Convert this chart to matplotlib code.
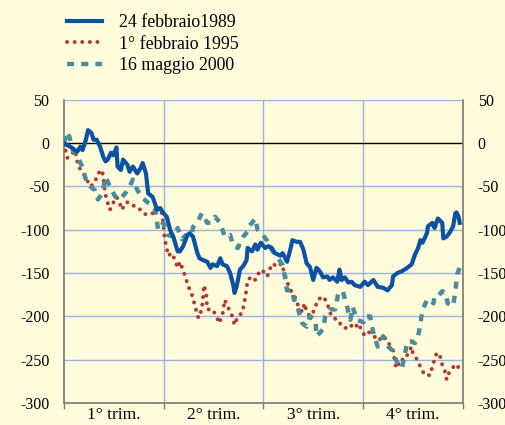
import matplotlib
matplotlib.use("Agg")
import matplotlib.pyplot as plt
from matplotlib.ticker import FixedLocator, NullFormatter, FixedFormatter

plt.rcParams['font.family'] = ['Liberation Serif', 'DejaVu Serif']

# x = calendar day from start of the year (0..365), y = change (basis points)
x_1989 = [0, 2, 4, 7, 12, 15, 17, 20, 22, 25, 27, 30, 33, 36, 38, 40, 43, 45, 48, 49,
          52, 54, 58, 60, 63, 67, 70, 72, 75, 77, 81, 83, 85, 88, 91, 94, 97, 100, 104, 106,
          109, 113, 115, 118, 122, 124, 127, 131, 134, 136, 140, 143, 145, 149, 152, 155, 156, 158, 161, 164,
          167, 168, 172, 175, 177, 180, 184, 187, 190, 193, 198, 200, 204, 207, 209, 213, 216, 219, 222, 225,
          228, 231, 234, 237, 241, 243, 246, 250, 252, 254, 257, 260, 263, 266, 271, 275, 278, 283, 287, 292,
          296, 300, 301, 305, 309, 314, 318, 321, 324, 326, 328, 332, 333, 337, 339, 342, 346, 347, 350, 353,
          356, 358, 359, 361, 362]
y_1989 = [0, -2, -3, -5, -10, -4, -8, 4, 15, 12, 4, 4, -4, -16, -21, -19, -11, -14, -5, -27,
          -31, -19, -25, -33, -27, -35, -29, -23, -35, -58, -62, -69, -77, -75, -81, -85, -100, -108, -125, -125,
          -119, -106, -104, -108, -127, -133, -135, -137, -144, -140, -142, -133, -140, -142, -150, -165, -173, -165, -146, -142,
          -135, -121, -125, -117, -123, -115, -121, -119, -121, -127, -130, -127, -137, -123, -112, -114, -114, -123, -139, -143,
          -158, -144, -148, -155, -154, -158, -155, -160, -146, -158, -155, -161, -160, -164, -166, -160, -164, -158, -166, -167,
          -170, -164, -154, -150, -148, -144, -140, -129, -121, -112, -115, -104, -96, -92, -98, -87, -92, -110, -108, -103,
          -96, -81, -80, -85, -92]

x_1995 = [0, 1, 3, 5, 10, 13, 17, 20, 24, 28, 31, 35, 36, 38, 40, 42, 45, 48, 50, 53,
          56, 59, 63, 68, 72, 77, 81, 85, 88, 90, 91, 92, 94, 95, 99, 102, 104, 106, 109, 112,
          113, 116, 118, 120, 122, 123, 126, 127, 128, 130, 131, 134, 136, 140, 142, 145, 146, 147, 149, 154,
          156, 159, 163, 164, 166, 167, 168, 172, 175, 177, 181, 186, 188, 191, 195, 199, 202, 204, 207, 211,
          214, 218, 220, 222, 225, 228, 230, 232, 237, 241, 243, 246, 251, 254, 259, 262, 266, 269, 273, 275,
          278, 282, 285, 287, 291, 294, 298, 301, 303, 305, 307, 312, 315, 318, 319, 323, 326, 330, 335, 337,
          341, 344, 346, 349, 350, 351, 355, 358, 360, 362]
y_1995 = [0, -6, -17, -16, -8, -27, -33, -40, -50, -46, -35, -31, -42, -60, -69, -77, -69, -62, -66, -77,
          -69, -68, -72, -74, -81, -83, -81, -75, -75, -83, -97, -110, -121, -130, -127, -137, -144, -137, -147, -158,
          -164, -171, -179, -189, -198, -202, -192, -181, -164, -173, -192, -192, -192, -202, -208, -198, -190, -181, -187, -200,
          -210, -200, -196, -190, -177, -167, -158, -154, -158, -152, -146, -154, -146, -139, -143, -139, -151, -160, -169, -177,
          -187, -195, -185, -195, -200, -195, -189, -181, -177, -185, -195, -202, -204, -212, -214, -210, -214, -208, -218, -222,
          -218, -220, -225, -223, -229, -225, -233, -239, -256, -260, -250, -250, -242, -235, -242, -250, -258, -268, -268, -258,
          -242, -246, -256, -265, -273, -268, -260, -256, -256, -265]

x_2000 = [0, 3, 5, 8, 12, 16, 20, 24, 28, 31, 35, 38, 42, 47, 51, 56, 60, 63, 67, 71,
          76, 81, 83, 85, 86, 91, 95, 100, 104, 108, 113, 117, 118, 123, 126, 131, 134, 138, 143, 147,
          152, 155, 159, 164, 168, 170, 175, 177, 182, 186, 190, 196, 200, 202, 204, 209, 210, 214, 218, 222,
          225, 230, 231, 234, 237, 239, 243, 248, 251, 255, 259, 262, 264, 268, 274, 275, 280, 283, 287, 292,
          295, 300, 305, 309, 312, 314, 318, 321, 324, 326, 328, 332, 335, 338, 339, 342, 346, 349, 351, 356,
          358, 360, 362]
y_2000 = [0, 13, 7, -8, -16, -25, -42, -50, -54, -65, -58, -39, -50, -62, -65, -58, -50, -42, -54, -62,
          -68, -72, -75, -89, -100, -92, -106, -108, -98, -111, -104, -104, -97, -89, -81, -92, -92, -85, -92, -108,
          -106, -119, -121, -108, -102, -95, -87, -100, -106, -113, -123, -133, -141, -154, -170, -170, -179, -191, -208, -212,
          -200, -204, -223, -219, -215, -200, -192, -192, -173, -171, -189, -204, -189, -204, -207, -200, -200, -219, -235, -223,
          -233, -239, -254, -260, -243, -229, -229, -231, -223, -208, -193, -181, -181, -185, -177, -177, -171, -173, -185, -188,
          -171, -150, -144]

labels = ["24 febbraio1989", "1° febbraio 1995", "16 maggio 2000"]
quarters = ["1° trim.", "2° trim.", "3° trim.", "4° trim."]
y_ticks = [50, 0, -50, -100, -150, -200, -250, -300]

bg = "#FFFCDB"
grid_c = "#9DB0E4"
fig = plt.figure(figsize=(5.06, 4.25), dpi=100, facecolor=bg)
ax = fig.add_axes([0.1265, 0.052, 0.7885, 0.713], facecolor=bg)

ax.set_xlim(0, 365)
ax.set_ylim(-300, 50)

bounds = [0, 91.25, 182.5, 273.75, 365]
mids = [(bounds[i] + bounds[i + 1]) / 2 for i in range(4)]

for b in bounds[1:-1]:
    ax.axvline(b, color=grid_c, lw=1.0, zorder=1)
for yv in y_ticks[:-1]:
    if yv == 0:
        ax.axhline(0, color="black", lw=1.0, zorder=1.5)
    else:
        ax.axhline(yv, color=grid_c, lw=1.0, zorder=1)

l1, = ax.plot(x_1989, y_1989, color="#0B52A3", lw=3.0, solid_joinstyle="round", zorder=4)
l2, = ax.plot(x_1995, y_1995, color="#B3372F", lw=2.8, linestyle=(0, (0.05, 1.9)),
              dash_capstyle="round", zorder=3)
l3, = ax.plot(x_2000, y_2000, color="#4A8C9F", lw=3.2, linestyle=(0, (1.6, 1.6)),
              dash_capstyle="butt", zorder=3)

ax.xaxis.set_major_locator(FixedLocator(bounds))
ax.xaxis.set_major_formatter(NullFormatter())
ax.xaxis.set_minor_locator(FixedLocator(mids))
ax.xaxis.set_minor_formatter(FixedFormatter(quarters))
ax.tick_params(axis="x", which="major", length=4, width=1, color="#777777", direction="out")
ax.tick_params(axis="x", which="minor", length=0, pad=3, labelsize=12.5)

ax.set_yticks(y_ticks)
ax.set_yticklabels([str(v) for v in y_ticks])
ax.tick_params(axis="y", which="both", left=False, right=False, labelleft=True,
               labelright=True, labelsize=11.5, pad=7)

for s in ["left", "right", "bottom"]:
    ax.spines[s].set_color("#777777")
    ax.spines[s].set_linewidth(1.2)
ax.spines["top"].set_visible(False)

leg = fig.legend([l1, l2, l3], labels, loc="upper left", bbox_to_anchor=(0.118, 0.983),
                 frameon=False, fontsize=12.8, handlelength=2.0, handletextpad=0.95,
                 labelspacing=0.24, borderaxespad=0)

fig.savefig("out.png", dpi=100, facecolor=bg)
